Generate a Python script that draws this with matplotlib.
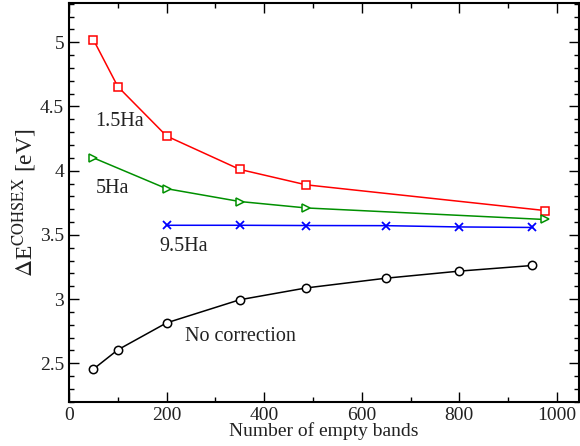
import numpy as np
import matplotlib.pyplot as plt
from matplotlib.ticker import MultipleLocator

plt.rcParams['font.family'] = ['Liberation Serif', 'DejaVu Serif']
plt.rcParams['mathtext.fontset'] = 'stix'

# data
x_15 = [50, 100, 200, 350, 486, 975]
y_15 = [5.02, 4.655, 4.27, 4.01, 3.89, 3.69]

x_5 = [50, 200, 350, 486, 975]
y_5 = [4.10, 3.86, 3.76, 3.71, 3.62]

x_95 = [200, 350, 486, 650, 800, 950]
y_95 = [3.575, 3.575, 3.573, 3.572, 3.562, 3.558]

x_nc = [50, 100, 200, 350, 486, 650, 800, 950]
y_nc = [2.455, 2.605, 2.815, 2.995, 3.087, 3.163, 3.218, 3.262]

labels = ["1.5Ha", "5Ha", "9.5Ha", "No correction"]
label_x = [53, 55, 186, 238]
label_y = [4.38, 3.86, 3.41, 2.71]

fig = plt.figure(figsize=(5.8, 4.46), dpi=100)
ax = fig.add_axes([0.119, 0.099, 0.879, 0.894])

ms = 5.5
ax.plot(x_15, y_15, "-s", color="red", lw=1.1, ms=ms, mfc="white", mec="red", mew=1.1)
ax.plot(x_5, y_5, "->", color="#009000", lw=1.1, ms=ms + 0.5, mfc="white", mec="#009000", mew=1.1)
ax.plot(x_95, y_95, "-x", color="blue", lw=1.1, ms=ms, mec="blue", mew=1.3)
ax.plot(x_nc, y_nc, "-o", color="black", lw=1.1, ms=ms + 0.5, mfc="white", mec="black", mew=1.1)

for lab, lx, ly in zip(labels, label_x, label_y):
    ax.text(lx, ly, lab, fontsize=14.5, color="#222222", va="center", ha="left")

ax.set_xlim(0, 1045)
ax.set_ylim(2.2, 5.305)
ax.xaxis.set_major_locator(MultipleLocator(200))
ax.xaxis.set_minor_locator(MultipleLocator(100))
ax.yaxis.set_minor_locator(MultipleLocator(0.1))
ax.set_yticks([2.5, 3, 3.5, 4, 4.5, 5])
ax.set_yticklabels(["2.5", "3", "3.5", "4", "4.5", "5"])

ax.tick_params(which="both", direction="in", top=True, right=True, labelsize=14,
               labelcolor="#222222", width=1.0)
ax.tick_params(which="major", length=7, pad=3.5)
ax.tick_params(which="minor", length=3.5)
for s in ax.spines.values():
    s.set_linewidth(1.5)

ax.set_xlabel("Number of empty bands", fontsize=14, color="#222222", labelpad=-1)
ax.set_ylabel(r"$\Delta$E$^{\mathrm{COHSEX}}$ [eV]", fontsize=17, color="#222222", labelpad=0.5)

fig.savefig("out.png", dpi=100)
